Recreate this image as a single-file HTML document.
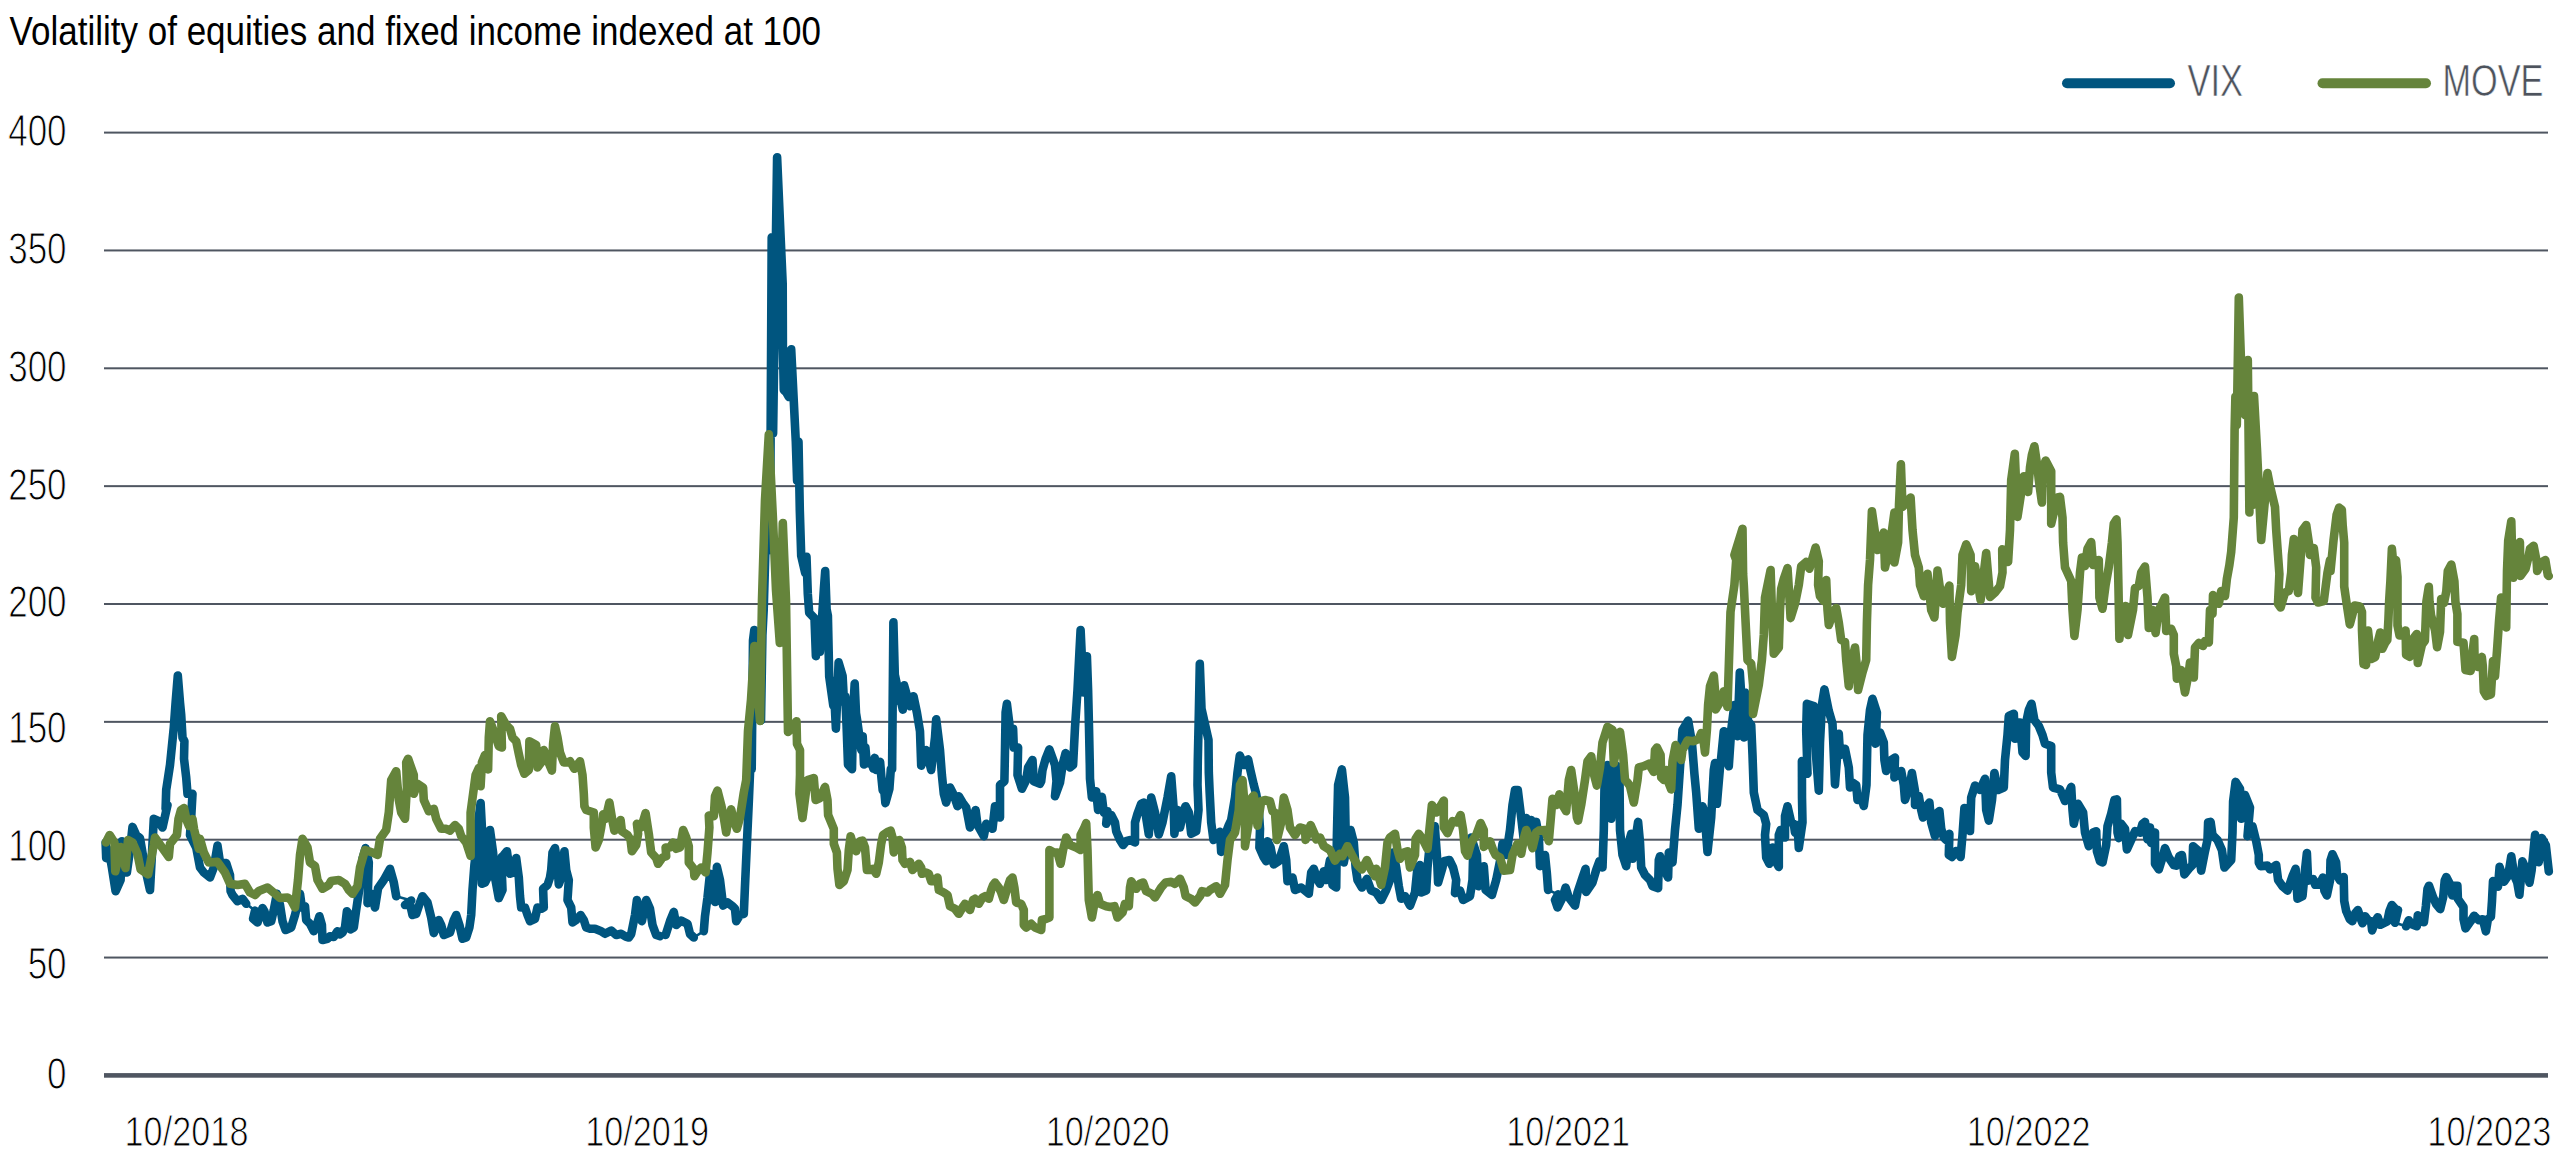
<!DOCTYPE html>
<html><head><meta charset="utf-8"><title>Volatility chart</title>
<style>html,body{margin:0;padding:0;background:#fff;}body{width:2560px;height:1156px;overflow:hidden;font-family:"Liberation Sans",sans-serif;}</style></head>
<body>
<svg width="2560" height="1156" viewBox="0 0 2560 1156" style="display:block">
<rect width="2560" height="1156" fill="#ffffff"/>
<rect x="104" y="131.60" width="2444" height="2" fill="#4f5661"/>
<rect x="104" y="249.45" width="2444" height="2" fill="#4f5661"/>
<rect x="104" y="367.30" width="2444" height="2" fill="#4f5661"/>
<rect x="104" y="485.15" width="2444" height="2" fill="#4f5661"/>
<rect x="104" y="603.00" width="2444" height="2" fill="#4f5661"/>
<rect x="104" y="720.85" width="2444" height="2" fill="#4f5661"/>
<rect x="104" y="838.70" width="2444" height="2" fill="#4f5661"/>
<rect x="104" y="956.55" width="2444" height="2" fill="#4f5661"/>
<path d="M246.2 903.8L255.0 910.6" fill="none" stroke="#00557f" stroke-width="2.6" stroke-linecap="round"/>
<path d="M396.2 896.2L411.2 900.6" fill="none" stroke="#00557f" stroke-width="2.6" stroke-linecap="round"/>
<path d="M660.0 936.2L665.6 935.0" fill="none" stroke="#00557f" stroke-width="2.6" stroke-linecap="round"/>
<path d="M693.8 937.5L703.8 931.2" fill="none" stroke="#00557f" stroke-width="2.6" stroke-linecap="round"/>
<path d="M1548.1 890.0L1558.1 894.4" fill="none" stroke="#00557f" stroke-width="2.6" stroke-linecap="round"/>
<path d="M2395.0 922.8L2406.1 926.3" fill="none" stroke="#00557f" stroke-width="2.6" stroke-linecap="round"/>
<path d="M105.6 842.5L106.2 858.1L108.8 850.0L111.9 867.5L115.6 891.2L120.6 880.0L121.9 841.2L124.4 855.0L126.9 872.5L130.0 850.0L132.5 826.9L136.2 835.0L140.0 838.1L145.0 867.5L150.0 890.0L151.9 855.0L153.8 818.8L158.8 821.2L162.5 827.5L167.5 805.0L165.6 809.0L166.2 790.0L170.0 765.0L173.8 727.5L175.6 702.5L177.8 675.6L180.0 702.5L181.2 715.0L182.5 737.5L184.4 741.2L184.0 758.8L186.2 777.5L187.5 793.8L192.5 793.8L191.2 817.5L190.0 835.0L196.2 847.5L200.0 867.5L203.8 872.5L210.0 877.5L213.8 867.5L217.5 845.6L220.0 862.5L226.2 863.1L230.0 875.0L230.6 891.2L232.5 895.0L237.5 901.2L242.5 898.8L246.2 903.8" fill="none" stroke="#00557f" stroke-width="8.6" stroke-linejoin="round" stroke-linecap="round"/>
<path d="M255.0 910.6L253.1 918.8L257.5 922.5L262.5 908.1L264.4 911.2L267.5 922.5L271.2 921.2L273.8 910.0L276.9 893.8L280.0 905.0L282.5 921.2L285.6 930.0L291.2 927.5L295.0 915.0L298.1 902.5L300.0 893.8L301.9 907.5L305.0 906.2L306.2 920.0L310.0 923.8L313.8 931.2L316.2 926.2L319.4 916.2L321.9 925.0L322.5 940.0L327.5 938.8L330.0 936.2L333.8 936.9L337.5 931.2L340.0 934.4L342.5 932.5L345.0 927.5L346.9 911.2L348.8 913.8L350.6 929.4L353.8 927.5L356.2 910.0L358.8 892.5L360.6 877.5L362.5 858.8L365.6 848.1L368.8 862.5L367.5 903.1L371.2 893.8L375.0 907.5L378.1 888.1L383.8 880.0L390.0 868.8L393.8 882.5L396.2 896.2" fill="none" stroke="#00557f" stroke-width="8.6" stroke-linejoin="round" stroke-linecap="round"/>
<path d="M411.2 900.6L405.0 905.0L410.0 903.8L412.5 915.0L416.2 913.8L420.0 902.5L422.5 896.2L427.5 902.5L431.2 917.5L433.8 933.1L436.2 927.5L438.8 920.0L441.2 925.0L443.8 935.0L450.0 932.5L453.8 920.0L456.2 915.0L459.4 925.0L462.5 938.8L466.2 937.5L469.4 927.5L471.2 915.0L472.5 890.0L474.4 865.0L477.5 840.0L477.5 827.5L480.6 803.1L481.9 827.5L481.9 883.8L485.0 882.5L487.5 877.5L490.0 830.0L493.1 852.5L495.0 877.5L498.8 898.1L502.5 890.0L501.2 857.5L503.8 855.0L506.9 851.2L510.0 873.8L513.8 872.5L516.2 858.1L518.8 877.5L520.0 896.2L521.2 907.5L525.0 907.5L527.5 915.0L530.0 921.2L535.0 918.8L537.5 907.5L541.2 908.8L543.8 907.5L543.1 888.8L547.5 885.0L550.0 877.5L551.2 870.0L552.5 852.5L555.0 848.1L557.5 865.0L558.8 884.4L561.2 877.5L563.1 865.0L564.4 851.2L566.2 870.0L568.8 880.0L567.5 900.0L571.2 907.5L572.5 922.5L576.2 920.0L580.6 915.0L583.8 920.0L586.2 927.5L590.0 928.8L595.0 928.8L601.2 931.2L605.0 933.8L611.2 930.6L616.2 935.0L621.2 933.8L626.2 936.9L628.8 937.5L631.2 934.0L635.0 915.0L636.9 900.0L641.9 921.2L646.2 900.0L650.0 908.8L652.5 925.0L656.2 935.0L660.0 936.2" fill="none" stroke="#00557f" stroke-width="8.6" stroke-linejoin="round" stroke-linecap="round"/>
<path d="M665.6 935.0L670.0 921.2L673.8 911.9L676.2 925.0L681.2 920.6L687.5 923.8L690.0 934.0L693.8 937.5" fill="none" stroke="#00557f" stroke-width="8.6" stroke-linejoin="round" stroke-linecap="round"/>
<path d="M703.8 931.2L705.0 916.2L707.5 897.5L710.0 873.8L712.0 875.0L715.0 901.9L716.9 866.9L720.0 880.0L723.1 905.6L727.5 902.5L732.5 906.2L735.0 908.8L736.2 921.2L740.0 915.0L743.8 913.8L745.0 885.7L749.0 797.4L750.3 766.1L751.7 769.3L753.0 640.5L754.3 630.0L758.3 704.3L759.7 666.5L761.0 720.1L762.4 635.4L763.7 609.7L767.7 470.7L769.0 550.2L770.4 476.9L771.7 237.4L773.1 433.3L777.1 157.3L782.7 284.0L782.9 347.0L783.8 390.0L786.0 392.0L788.8 397.0L791.2 349.4L795.8 441.6L797.1 480.9L798.5 441.8L799.8 510.1L801.2 555.7L805.2 573.0L806.5 556.8L807.8 594.0L809.2 612.7L814.5 618.2L815.9 656.1L817.2 621.9L818.5 630.0L819.9 651.8L823.9 588.7L825.2 571.1L826.6 609.2L827.9 615.9L829.2 676.4L833.3 705.7L834.6 702.6L835.9 728.6L837.3 696.2L838.6 662.4L842.6 676.0L844.0 702.2L845.3 696.5L846.6 726.2L848.0 764.7L852.0 769.2L853.3 708.5L854.7 683.6L856.0 713.3L857.3 721.3L861.3 750.0L862.7 736.3L864.0 764.5L865.4 747.5L866.7 762.7L872.0 764.3L873.4 768.7L874.7 757.9L876.1 769.9L880.1 761.9L881.4 777.3L882.7 790.4L884.1 788.8L885.4 803.1L889.4 788.8L890.8 769.2L892.1 769.2L893.4 622.4L894.8 674.6L898.8 693.4L900.1 701.5L901.5 703.7L902.8 709.6L904.1 685.4L910.0 706.2L913.5 696.2L916.9 712.5L920.0 731.2L921.2 765.6L926.2 750.0L931.2 770.0L935.0 737.5L936.2 719.4L940.0 750.0L941.9 775.0L943.8 793.8L946.2 802.5L950.0 787.5L953.8 795.0L957.5 806.2L958.8 796.2L962.5 802.5L966.2 807.5L970.0 827.5L975.6 810.0L977.5 825.0L983.8 836.2L986.2 823.8L992.5 828.8L995.0 806.2L1000.0 817.5L1000.0 785.0L1004.4 781.2L1005.0 750.0L1005.6 712.5L1006.9 703.8L1010.0 728.8L1013.1 728.8L1013.8 747.5L1018.1 747.5L1017.5 775.0L1021.9 788.8L1026.2 780.0L1028.1 767.5L1032.5 760.0L1033.8 781.2L1040.0 783.8L1041.2 781.2L1042.5 770.0L1045.6 758.8L1049.4 749.4L1055.0 765.0L1056.5 781.2L1055.0 796.2L1060.0 782.5L1062.8 763.8L1065.6 753.1L1070.0 767.5L1073.1 765.0L1075.0 727.5L1077.5 690.0L1079.4 652.5L1080.6 630.0L1083.5 692.5L1086.9 656.2L1088.1 690.0L1089.0 727.5L1089.8 765.0L1090.0 778.8L1091.9 797.5L1096.2 791.2L1098.1 810.0L1101.9 796.9L1103.8 812.5L1107.5 811.2L1106.2 823.8L1111.2 815.0L1115.0 822.5L1116.2 831.2L1120.0 840.0L1123.1 845.0L1126.2 841.2L1130.0 840.0L1135.0 842.5L1135.0 822.5L1137.5 813.8L1141.2 803.8L1143.8 802.5L1148.8 834.4L1151.2 797.5L1155.0 812.5L1158.8 834.4L1162.5 822.5L1167.5 797.5L1171.2 776.2L1173.8 810.0L1174.4 833.8L1177.5 810.0L1180.0 827.5L1183.8 810.0L1185.6 806.2L1188.8 812.5L1191.2 833.8L1196.2 831.2L1198.5 810.0L1197.5 785.0L1197.8 760.0L1198.8 715.0L1199.8 663.8L1201.5 708.8L1208.5 740.0L1208.8 772.5L1209.6 791.2L1211.2 822.5L1213.5 840.0L1216.2 835.0L1220.0 831.9L1221.2 851.9L1225.0 835.0L1228.8 825.0L1231.2 820.0L1235.0 797.5L1237.5 772.5L1239.8 755.6L1244.0 765.0L1248.1 759.4L1250.6 771.2L1253.8 785.0L1256.2 793.8L1258.8 810.0L1260.0 828.8L1259.4 847.5L1263.8 857.5L1266.2 861.2L1267.5 841.2L1270.6 847.5L1273.8 864.4L1278.8 861.2L1283.8 846.2L1286.2 860.0L1287.5 881.2L1292.5 877.5L1295.0 890.0L1301.2 887.5L1308.8 893.8L1311.2 872.5L1313.8 868.8L1317.5 880.0L1320.0 883.8L1323.8 871.2L1326.2 880.0L1330.0 860.0L1332.5 885.0L1336.2 887.5L1336.9 835.0L1338.1 785.0L1341.9 769.4L1345.0 797.5L1345.6 830.0L1343.8 862.5L1347.5 842.5L1350.6 830.0L1353.8 842.5L1355.6 867.5L1357.5 880.0L1361.9 887.5L1366.9 878.8L1371.2 890.6L1376.2 892.5L1381.2 900.0L1386.2 890.0L1390.0 880.0L1391.9 867.5L1393.1 852.5L1396.2 867.5L1398.8 886.2L1401.2 898.8L1405.0 896.2L1410.0 905.6L1415.0 892.5L1417.5 867.5L1420.0 865.0L1421.2 892.5L1426.2 890.6L1427.5 867.5L1430.0 842.5L1434.8 826.2L1436.9 855.0L1438.1 882.5L1442.5 867.5L1443.8 861.2L1449.4 860.0L1453.1 867.5L1456.2 880.0L1455.0 893.1L1460.0 890.6L1463.1 900.0L1470.0 896.2L1472.5 880.0L1473.1 855.0L1471.2 837.5L1476.9 855.0L1478.1 886.2L1483.8 866.2L1485.6 890.0L1491.9 895.0L1496.2 880.0L1500.0 861.2L1502.5 843.8L1506.2 855.0L1510.0 830.0L1512.5 805.0L1515.0 790.0L1517.8 790.0L1521.2 817.5L1523.5 837.5L1526.2 818.1L1528.8 840.0L1531.2 820.0L1533.8 841.2L1536.2 821.9L1538.8 836.2L1540.0 866.2L1545.0 855.0L1546.9 873.8L1548.1 890.0" fill="none" stroke="#00557f" stroke-width="8.6" stroke-linejoin="round" stroke-linecap="round"/>
<path d="M1558.1 894.4L1555.0 900.0L1557.5 907.5L1562.5 897.5L1565.6 887.5L1568.8 897.5L1575.0 905.6L1577.5 892.5L1582.5 877.5L1585.6 868.8L1586.2 891.9L1592.5 882.5L1596.2 870.0L1599.4 861.2L1602.5 867.5L1603.8 830.0L1604.4 792.5L1605.0 767.5L1607.5 765.0L1611.2 818.8L1615.0 765.0L1619.4 767.5L1620.0 830.0L1622.5 855.0L1626.2 866.2L1628.8 842.5L1631.2 833.8L1632.5 858.8L1638.1 821.9L1640.0 842.5L1641.2 867.5L1645.0 875.0L1650.0 880.0L1652.5 886.2L1658.1 888.1L1658.8 860.0L1660.0 856.2L1663.1 867.5L1668.1 877.5L1668.8 852.5L1672.5 862.5L1675.0 830.0L1677.5 805.0L1680.0 767.5L1682.5 730.0L1688.1 720.6L1691.9 742.5L1694.4 773.8L1696.2 792.5L1698.8 828.8L1702.5 806.2L1704.5 812.5L1707.5 852.0L1711.2 817.5L1713.8 770.0L1715.0 763.1L1716.2 780.0L1716.9 803.8L1720.0 767.5L1721.2 757.5L1723.8 731.2L1728.8 766.2L1731.2 730.0L1734.4 705.0L1737.5 736.2L1739.8 672.5L1744.0 737.5L1745.0 692.5L1748.1 721.2L1751.2 725.0L1752.5 755.0L1753.8 792.5L1757.5 810.0L1763.8 815.0L1766.2 824.0L1765.0 835.0L1766.2 857.5L1769.4 863.8L1772.5 847.5L1775.0 860.0L1778.8 867.0L1778.8 835.0L1780.6 830.0L1785.0 837.5L1785.0 816.0L1787.5 806.2L1791.2 822.5L1793.8 823.8L1795.0 832.5L1797.5 825.0L1798.8 848.0L1802.5 822.5L1802.0 797.5L1801.9 761.0L1807.5 773.8L1806.2 730.0L1806.9 703.8L1813.8 706.0L1815.0 742.5L1818.8 790.6L1820.0 742.5L1821.9 705.0L1824.4 689.4L1828.8 711.0L1832.5 723.8L1835.0 784.4L1838.8 733.8L1840.0 755.0L1845.0 748.8L1848.8 767.5L1850.0 787.5L1852.5 782.5L1856.2 785.0L1857.5 800.0L1861.2 797.5L1863.8 806.0L1866.5 785.0L1867.5 735.0L1870.0 710.0L1872.5 698.8L1876.9 712.5L1875.6 743.8L1880.0 732.5L1883.8 742.5L1884.4 760.0L1886.2 771.0L1891.2 760.0L1895.0 757.5L1894.4 777.5L1901.2 771.0L1903.8 785.0L1905.0 800.0L1910.0 785.0L1911.9 773.0L1915.0 791.0L1915.0 805.0L1918.8 796.0L1921.2 810.0L1923.0 817.5L1927.5 805.0L1929.4 802.5L1931.2 822.5L1935.0 836.0L1937.5 812.5L1939.4 811.0L1941.2 828.8L1943.8 837.5L1946.2 840.0L1949.4 833.8L1948.8 855.0L1951.9 857.0L1956.2 851.0L1960.6 857.0L1962.5 835.0L1964.4 808.0L1970.0 831.0L1971.2 797.5L1975.0 785.6L1980.0 790.0L1985.0 778.8L1986.2 810.0L1988.8 820.6L1992.0 800.0L1994.4 773.0L1998.0 790.0L2003.8 787.5L2005.0 760.0L2007.5 735.0L2008.8 716.0L2013.8 713.8L2015.0 738.8L2017.5 722.5L2020.0 722.5L2022.5 752.5L2025.6 756.0L2026.2 722.5L2028.8 710.0L2031.5 703.8L2034.4 720.0L2038.8 726.0L2042.5 735.0L2045.0 743.8L2051.2 746.0L2051.2 772.5L2053.0 787.5L2060.0 789.4L2065.0 801.0L2071.2 786.9L2072.5 810.0L2073.8 823.8L2078.0 803.8L2083.1 812.5L2085.0 832.5L2088.8 846.2L2093.1 832.5L2096.2 831.2L2096.9 851.2L2100.0 861.2L2102.5 862.5L2106.2 845.0L2107.5 826.2L2111.2 813.8L2114.4 800.0L2116.9 799.4L2117.5 832.5L2118.8 838.1L2121.2 823.8L2125.0 828.8L2126.9 849.4L2131.2 840.0L2135.0 831.2L2140.0 832.5L2142.5 823.8L2145.0 821.9L2147.5 839.4L2150.0 827.5L2151.2 843.1L2155.0 832.5L2155.0 863.8L2158.8 869.4L2162.5 857.5L2165.0 848.1L2168.8 857.5L2173.8 865.0L2176.2 865.6L2179.4 856.2L2181.9 855.0L2184.4 874.4L2188.8 868.8L2192.5 865.0L2193.1 846.2L2198.8 851.2L2201.2 870.6L2205.0 851.2L2207.5 840.0L2208.1 822.5L2210.6 821.9L2212.5 835.0L2217.5 840.0L2221.9 850.0L2224.4 867.5L2231.2 860.0L2232.5 832.5L2233.1 801.2L2235.6 781.9L2240.0 788.8L2241.2 818.8L2245.0 795.0L2250.0 807.5L2247.5 836.2L2252.5 826.2L2256.2 841.2L2258.8 855.0L2258.8 862.5L2260.6 866.2L2267.5 865.6L2270.0 869.4L2276.2 865.0L2278.1 880.0L2282.5 886.2L2287.5 890.6L2292.5 876.2L2295.6 868.8L2297.5 898.8L2302.5 896.2L2305.0 870.0L2306.9 853.1L2308.1 880.6L2313.2 879.1L2315.2 884.7L2319.3 884.7L2322.9 877.6L2324.4 890.8L2326.9 895.4L2330.0 880.6L2330.5 860.3L2332.5 854.2L2336.1 862.3L2337.1 875.5L2340.1 880.6L2343.7 877.1L2344.2 900.9L2346.2 911.1L2349.8 919.2L2352.3 921.3L2355.4 913.1L2357.9 910.1L2360.9 919.2L2362.5 923.3L2365.0 916.2L2368.0 920.2L2371.1 921.3L2372.1 930.4L2375.2 921.3L2377.7 917.2L2380.2 924.8L2387.3 921.3L2389.4 911.1L2391.9 905.0L2395.5 909.1L2398.0 910.1L2395.0 922.8" fill="none" stroke="#00557f" stroke-width="8.6" stroke-linejoin="round" stroke-linecap="round"/>
<path d="M2406.1 926.3L2408.7 920.2L2411.7 924.3L2416.8 926.3L2417.8 915.4L2423.9 922.3L2425.9 906.0L2427.5 888.8L2429.0 885.7L2433.0 896.9L2436.1 904.0L2440.2 909.1L2443.2 896.9L2444.7 880.6L2446.3 877.1L2450.3 884.7L2452.3 895.4L2453.4 885.7L2457.4 885.7L2457.9 898.9L2463.5 907.0L2463.5 919.2L2465.5 928.4L2470.6 921.3L2474.2 915.7L2478.8 920.2L2482.8 919.2L2485.9 931.4L2487.9 919.2L2490.9 916.7L2492.0 900.9L2493.0 881.1L2498.0 886.7L2499.6 866.9L2504.1 881.6L2508.2 875.5L2511.3 856.3L2514.3 875.5L2517.3 882.7L2519.4 894.8L2522.4 861.3L2526.5 870.5L2529.5 882.7L2531.6 870.5L2533.6 850.2L2535.1 834.9L2536.6 850.2L2538.7 862.3L2541.7 838.0L2545.8 845.1L2548.8 871.5" fill="none" stroke="#00557f" stroke-width="8.6" stroke-linejoin="round" stroke-linecap="round"/>
<path d="M105.9 842.5L109.7 835.0L114.4 842.5L115.3 871.3L120.6 847.0L125.5 868.0L128.0 840.0L132.5 842.5L137.5 853.8L140.6 869.4L148.1 874.4L153.8 845.0L155.0 837.5L168.8 856.9L170.0 843.8L176.9 835.0L178.5 819.0L181.0 810.0L184.0 808.0L186.5 820.0L189.0 826.0L192.5 819.0L194.0 829.0L198.8 848.8L200.0 838.8L203.8 852.5L208.8 862.5L217.5 861.9L225.0 872.5L230.0 883.8L237.5 885.0L245.0 883.8L250.0 892.5L255.0 895.0L258.8 891.0L267.5 887.5L275.0 893.8L280.0 898.0L287.5 897.5L291.0 900.0L295.0 907.5L298.0 880.0L300.0 855.0L302.5 838.8L307.5 847.5L310.0 862.5L315.0 866.0L317.5 880.0L322.5 888.8L328.8 885.0L331.0 881.0L338.8 880.0L345.0 883.8L348.8 890.0L352.5 893.8L357.5 886.0L360.0 867.5L365.0 850.0L372.5 852.5L377.5 855.0L380.0 838.8L386.2 830.0L388.8 812.5L391.2 780.0L396.2 771.2L398.8 800.0L401.2 812.5L405.0 818.8L406.9 787.5L406.2 762.5L408.1 758.8L413.8 775.0L413.8 793.8L417.5 783.8L423.1 787.5L423.8 800.0L428.8 811.2L433.8 808.8L436.2 818.8L441.2 828.8L446.2 828.8L450.0 830.6L455.0 825.0L458.8 828.8L461.2 836.2L466.2 842.5L470.6 856.0L470.6 812.5L473.1 793.8L475.6 775.0L478.8 768.1L480.6 786.2L481.9 762.5L485.0 755.0L488.1 769.4L488.8 737.5L490.0 721.2L493.8 731.2L498.8 746.2L501.9 747.5L501.2 716.2L506.2 725.0L510.0 728.8L512.5 737.5L516.2 741.2L518.8 753.8L521.2 765.0L524.4 773.8L528.8 770.0L529.4 741.2L536.2 745.0L537.5 767.5L541.2 762.5L543.8 750.0L547.5 760.0L551.9 770.6L553.1 743.8L555.0 726.2L557.5 737.5L560.0 752.5L563.8 762.5L567.5 762.5L570.0 761.2L574.4 768.8L580.0 761.2L582.5 775.0L583.8 793.8L584.4 806.2L586.2 810.0L586.2 810.0L593.8 812.5L593.8 827.5L595.6 847.5L598.8 840.0L601.2 827.5L603.1 814.4L605.6 818.8L609.4 802.5L612.5 821.2L614.4 830.6L617.5 827.5L620.6 820.0L621.9 831.2L627.5 835.0L630.6 840.0L631.9 851.2L636.2 845.0L638.1 833.8L636.9 823.8L641.2 827.5L645.6 813.1L648.8 833.8L651.2 852.5L656.2 858.1L658.1 863.8L662.5 857.5L666.2 856.2L665.6 847.5L670.0 847.5L673.1 842.5L676.2 848.8L680.0 847.5L683.1 830.0L686.2 837.5L688.8 846.2L688.8 862.5L693.8 868.8L694.4 876.2L697.5 871.2L701.2 867.5L705.6 872.5L707.5 852.5L709.4 827.5L708.8 815.6L713.8 816.2L715.0 796.2L715.0 796.2L717.5 790.6L721.2 805.0L723.8 817.5L726.2 832.5L728.8 817.5L731.2 809.4L733.8 821.2L736.9 828.8L740.0 817.5L741.9 805.0L743.8 792.5L746.2 780.0L748.0 731.0L751.0 700.0L754.4 646.0L757.5 690.0L760.0 721.0L762.0 600.0L765.0 500.0L768.8 434.4L773.0 520.0L776.0 590.0L779.8 643.0L782.8 523.0L786.0 600.0L788.0 732.0L792.0 728.0L796.5 721.2L797.0 743.8L800.0 750.0L800.0 775.0L799.4 793.8L802.5 818.0L807.5 780.0L813.8 778.0L815.6 800.0L820.0 798.0L825.0 786.9L827.5 800.0L828.1 815.0L833.8 828.8L833.8 843.8L836.9 852.5L837.5 868.8L839.4 885.0L843.8 881.2L847.5 870.0L848.8 850.0L850.6 836.2L853.8 847.5L856.2 851.2L860.0 841.2L862.5 840.6L865.0 847.5L866.9 870.0L870.0 870.0L873.1 868.8L876.2 873.8L878.8 862.5L881.2 843.8L883.1 835.0L887.5 831.9L890.6 830.6L892.5 837.5L893.8 852.5L897.5 841.2L899.4 840.0L901.9 847.5L902.5 860.0L905.0 863.8L910.0 861.9L912.5 870.0L915.0 867.5L918.8 863.8L921.2 867.5L921.9 873.8L926.2 872.5L928.8 873.8L931.2 881.2L933.8 881.2L937.5 877.5L938.8 890.0L943.8 892.5L947.5 895.0L950.0 906.2L955.0 908.8L958.8 913.8L962.5 907.5L965.0 903.8L970.0 910.0L973.1 900.0L975.0 898.8L978.8 903.8L982.5 897.5L985.0 896.2L988.8 898.8L991.2 890.0L993.1 885.0L995.0 882.5L998.8 887.5L1001.2 892.5L1003.8 900.0L1007.5 887.5L1010.0 880.0L1012.5 877.5L1014.4 887.5L1016.2 902.5L1021.2 903.8L1023.8 910.0L1023.8 925.0L1026.2 927.5L1031.2 923.8L1035.0 927.5L1041.2 930.0L1041.9 920.0L1046.2 918.8L1049.4 917.5L1049.4 875.0L1049.4 850.0L1053.8 852.5L1057.5 852.5L1060.6 863.8L1063.1 850.0L1066.2 837.5L1070.0 845.0L1076.2 847.5L1080.6 850.0L1080.6 835.0L1083.8 828.8L1086.2 823.1L1087.5 850.0L1088.8 900.0L1091.9 917.5L1095.0 900.0L1097.5 895.0L1100.0 903.8L1106.2 906.2L1110.0 906.9L1114.4 906.2L1117.5 917.5L1122.5 912.5L1125.0 903.8L1128.8 906.2L1130.0 887.5L1131.2 881.2L1136.2 888.8L1140.0 883.8L1143.1 882.5L1146.2 891.2L1151.9 893.8L1155.0 897.5L1161.2 887.5L1165.6 882.5L1171.2 881.9L1175.0 883.8L1180.0 878.8L1183.8 887.5L1185.6 896.2L1191.2 898.8L1195.0 902.5L1200.0 896.2L1201.9 891.2L1207.5 892.5L1210.0 890.0L1216.2 886.2L1220.0 893.8L1225.0 885.0L1227.5 860.0L1230.0 840.0L1235.0 832.5L1238.8 810.0L1240.0 785.0L1242.5 780.0L1245.0 810.0L1245.0 846.2L1248.8 822.5L1251.9 797.5L1253.8 795.6L1256.2 810.0L1257.5 825.6L1261.2 801.2L1265.0 800.0L1270.0 801.2L1272.5 811.2L1275.0 812.5L1276.9 840.0L1281.2 822.5L1283.8 797.5L1287.5 810.0L1290.0 827.5L1295.0 835.0L1300.0 827.5L1305.0 828.8L1305.6 840.0L1310.6 825.0L1315.0 835.0L1316.2 839.4L1320.0 837.5L1323.8 846.2L1330.0 850.0L1335.0 860.6L1340.0 853.8L1342.5 856.2L1347.5 846.2L1352.5 856.2L1357.5 865.0L1361.9 869.4L1366.9 860.0L1371.2 870.0L1375.0 876.2L1376.2 868.8L1381.2 885.0L1385.0 867.5L1387.5 842.5L1390.0 837.5L1395.0 833.8L1397.5 850.0L1400.0 858.8L1403.8 852.5L1407.5 851.2L1410.0 867.5L1415.0 855.0L1415.6 838.8L1418.8 833.8L1422.5 838.8L1427.5 848.8L1430.0 823.8L1431.9 805.0L1436.2 812.5L1438.8 808.8L1443.8 800.6L1443.8 827.5L1447.5 833.1L1452.5 821.2L1456.9 822.5L1460.6 815.0L1463.1 830.0L1465.0 851.2L1467.5 855.6L1471.2 842.5L1476.2 835.0L1480.6 823.1L1483.8 830.0L1483.8 846.9L1490.0 841.2L1493.1 850.0L1495.6 855.0L1500.0 857.5L1503.8 870.6L1510.0 870.0L1512.5 855.0L1517.5 843.8L1521.2 853.8L1524.4 836.2L1526.2 830.0L1530.0 840.0L1532.5 848.1L1536.2 832.5L1538.8 830.6L1545.0 830.0L1548.8 841.2L1552.5 798.8L1556.2 805.0L1559.4 794.4L1562.5 805.0L1566.2 811.2L1568.8 780.0L1571.2 770.0L1574.4 792.5L1576.9 817.5L1578.1 820.6L1581.2 805.0L1585.0 780.0L1587.5 761.2L1591.2 756.2L1593.8 773.8L1596.9 785.6L1600.0 767.5L1602.5 742.5L1607.5 726.9L1612.5 730.0L1613.8 763.1L1617.5 742.5L1620.0 731.9L1623.1 755.0L1625.0 780.0L1627.5 782.5L1630.0 786.2L1633.8 802.5L1637.5 780.0L1638.8 767.5L1643.8 766.2L1648.8 763.8L1653.8 771.9L1655.0 750.0L1656.9 747.5L1660.6 755.0L1661.2 777.5L1663.8 780.0L1666.2 770.0L1667.5 780.0L1671.2 789.4L1672.5 761.2L1675.6 745.0L1681.2 760.0L1682.5 750.0L1687.5 740.6L1693.8 741.2L1698.8 738.8L1701.2 733.1L1703.8 742.5L1705.0 752.5L1706.9 730.0L1708.1 705.0L1710.0 686.2L1713.8 675.6L1715.6 697.5L1715.6 709.4L1720.6 701.2L1723.8 691.2L1727.5 706.9L1729.0 660.0L1730.5 612.0L1734.4 585.0L1736.2 560.0L1734.4 555.0L1742.5 528.8L1743.1 574.0L1743.8 585.0L1745.6 622.5L1747.5 660.0L1751.2 663.8L1753.1 685.0L1753.0 714.0L1758.8 685.0L1761.9 660.0L1763.8 635.0L1765.0 597.5L1770.6 570.0L1771.9 610.0L1773.8 653.8L1778.8 647.5L1780.0 610.0L1781.2 588.8L1783.8 578.8L1787.5 568.1L1789.4 597.5L1790.6 618.1L1795.0 603.8L1798.8 585.0L1801.2 566.2L1806.2 561.9L1809.4 568.8L1815.6 547.5L1818.8 561.2L1818.1 585.0L1820.0 596.2L1823.8 601.2L1826.2 580.0L1827.5 610.0L1828.8 625.0L1833.1 612.5L1836.2 608.1L1838.8 622.5L1841.2 640.0L1845.0 641.9L1846.2 660.0L1848.8 686.2L1851.9 660.0L1855.0 647.5L1857.5 672.5L1858.1 690.0L1862.5 672.5L1866.2 660.0L1866.9 622.5L1868.1 585.0L1870.0 560.0L1871.9 511.2L1877.5 550.0L1883.8 532.5L1885.0 567.5L1890.0 545.0L1894.4 512.5L1894.4 562.5L1898.1 542.5L1899.0 505.0L1900.9 464.4L1902.5 506.9L1910.6 497.5L1912.5 530.0L1915.0 555.0L1918.8 567.5L1920.0 585.0L1923.8 596.2L1927.5 573.8L1931.2 610.0L1934.4 617.5L1937.5 570.6L1941.2 597.5L1943.1 603.8L1946.9 591.2L1949.4 585.6L1950.0 622.5L1951.9 656.9L1955.6 635.0L1957.5 612.5L1961.2 585.0L1962.5 555.0L1966.2 544.4L1970.6 555.0L1971.2 591.2L1975.0 566.2L1980.6 600.0L1986.2 553.1L1990.0 596.9L1995.0 592.5L2000.0 586.2L2002.5 572.5L2002.2 549.4L2008.1 561.9L2010.0 530.0L2011.2 480.0L2014.8 453.8L2017.5 516.9L2021.2 492.5L2023.8 476.2L2028.1 491.9L2030.0 467.5L2031.9 455.0L2034.4 446.2L2037.5 467.5L2038.8 480.0L2041.9 502.5L2043.1 467.5L2045.6 460.6L2051.2 471.2L2051.2 523.8L2055.6 505.0L2057.5 497.5L2060.0 496.9L2062.5 517.5L2063.1 542.5L2065.0 567.5L2065.3 568.0L2071.2 581.0L2072.5 610.0L2074.4 636.0L2077.5 610.0L2080.0 572.5L2081.9 557.5L2085.0 566.0L2087.5 548.8L2091.2 542.0L2093.0 565.0L2098.8 560.0L2099.4 597.5L2102.5 608.8L2105.6 585.0L2108.8 567.0L2111.9 542.5L2113.8 523.8L2116.5 519.4L2117.5 542.5L2118.5 590.0L2119.4 638.8L2122.5 610.0L2125.6 606.0L2128.0 635.0L2133.0 610.0L2135.0 588.0L2138.8 586.0L2141.2 572.5L2145.0 566.5L2147.5 597.5L2148.8 628.0L2152.5 610.0L2155.6 633.0L2158.8 610.0L2161.9 603.8L2165.0 597.5L2166.2 631.0L2171.2 628.8L2173.8 635.0L2173.8 653.8L2176.2 666.0L2176.9 678.8L2181.2 670.0L2185.0 692.5L2188.8 672.5L2190.0 662.5L2193.8 677.5L2195.0 647.5L2198.8 643.0L2203.0 646.0L2205.0 641.0L2208.8 642.5L2210.0 610.0L2212.5 613.8L2213.0 595.0L2218.8 603.8L2221.2 591.0L2225.0 596.0L2226.9 578.8L2229.4 565.0L2231.2 551.9L2233.8 517.5L2234.6 430.0L2235.4 396.6L2236.8 425.0L2238.8 297.5L2242.5 405.0L2245.0 415.0L2247.8 360.0L2249.4 512.5L2251.0 430.0L2252.3 505.0L2254.0 396.0L2257.0 450.0L2261.2 540.0L2267.5 473.0L2270.0 486.0L2275.0 507.0L2276.2 530.0L2278.0 555.0L2279.4 574.0L2278.0 603.8L2280.6 607.5L2285.0 592.5L2288.8 591.0L2291.2 572.5L2291.9 555.0L2293.8 539.0L2296.0 570.0L2298.0 593.0L2300.5 560.0L2302.5 530.0L2306.2 525.0L2308.8 542.5L2310.0 555.0L2313.8 548.0L2316.2 567.5L2315.5 597.5L2318.0 602.5L2323.8 601.0L2327.5 572.5L2330.0 560.0L2330.5 571.0L2333.5 540.6L2336.6 515.0L2339.1 507.6L2341.8 509.6L2342.7 525.4L2344.2 542.7L2344.2 586.3L2346.7 604.0L2349.8 624.4L2354.8 605.5L2359.9 606.5L2362.0 612.0L2362.0 630.5L2363.5 664.0L2366.0 665.0L2368.0 630.5L2371.0 659.0L2375.2 657.0L2378.2 640.6L2380.2 632.5L2382.3 648.8L2385.3 642.7L2387.3 640.0L2388.4 620.0L2389.2 600.0L2390.4 581.0L2391.9 548.8L2393.4 565.0L2396.0 560.0L2397.5 577.0L2397.5 600.0L2397.5 625.4L2399.5 635.5L2402.6 635.5L2405.6 630.5L2406.1 654.8L2409.7 656.9L2411.7 640.6L2416.8 634.0L2417.8 663.0L2421.9 644.7L2424.9 640.6L2426.4 601.6L2428.8 586.8L2429.5 601.6L2431.0 615.0L2435.1 630.5L2437.1 647.2L2440.0 632.0L2441.2 599.0L2444.0 603.0L2446.3 591.4L2447.8 571.0L2451.3 564.5L2454.4 581.3L2455.4 601.6L2457.4 614.2L2457.4 641.7L2463.5 642.7L2465.5 670.0L2470.6 671.0L2472.7 650.8L2474.2 639.0L2474.7 665.0L2477.7 667.0L2481.8 656.9L2482.8 666.0L2483.8 691.4L2486.4 696.0L2490.9 694.5L2493.0 661.0L2495.0 676.2L2497.0 650.8L2499.1 620.3L2501.1 597.5L2503.5 600.0L2506.2 627.4L2507.0 571.0L2508.2 540.6L2511.3 521.3L2512.3 561.0L2513.3 577.7L2516.3 550.8L2519.9 542.0L2520.4 576.0L2525.5 569.0L2528.5 556.9L2530.0 548.8L2533.6 545.7L2536.6 561.0L2537.2 571.0L2540.7 563.0L2545.3 560.0L2547.8 575.0L2548.8 576.0" fill="none" stroke="#65843b" stroke-width="8.6" stroke-linejoin="round" stroke-linecap="round"/>
<rect x="104" y="1073.10" width="2444" height="4.6" fill="#4f5661"/>
<line x1="2067" y1="83.2" x2="2170" y2="83.2" stroke="#00557f" stroke-width="10" stroke-linecap="round"/>
<line x1="2322.5" y1="83.2" x2="2426" y2="83.2" stroke="#65843b" stroke-width="10" stroke-linecap="round"/>
<text transform="translate(9.6,45) scale(0.8645,1)" font-family="Liberation Sans, sans-serif" font-size="40.5" fill="#000000" text-anchor="start">Volatility of equities and fixed income indexed at 100</text>
<text transform="translate(2187.5,96.4) scale(0.775,1)" font-family="Liberation Sans, sans-serif" font-size="44.5" fill="#4d535d" text-anchor="start" stroke="#ffffff" stroke-width="0.6" paint-order="fill stroke">VIX</text>
<text transform="translate(2442.5,96.4) scale(0.77,1)" font-family="Liberation Sans, sans-serif" font-size="44.5" fill="#4d535d" text-anchor="start" stroke="#ffffff" stroke-width="0.6" paint-order="fill stroke">MOVE</text>
<text transform="translate(66.6,146.0) scale(0.775,1)" font-family="Liberation Sans, sans-serif" font-size="45.2" fill="#000000" text-anchor="end" stroke="#ffffff" stroke-width="1.05" paint-order="fill stroke">400</text>
<text transform="translate(66.6,263.84999999999997) scale(0.775,1)" font-family="Liberation Sans, sans-serif" font-size="45.2" fill="#000000" text-anchor="end" stroke="#ffffff" stroke-width="1.05" paint-order="fill stroke">350</text>
<text transform="translate(66.6,381.69999999999993) scale(0.775,1)" font-family="Liberation Sans, sans-serif" font-size="45.2" fill="#000000" text-anchor="end" stroke="#ffffff" stroke-width="1.05" paint-order="fill stroke">300</text>
<text transform="translate(66.6,499.54999999999995) scale(0.775,1)" font-family="Liberation Sans, sans-serif" font-size="45.2" fill="#000000" text-anchor="end" stroke="#ffffff" stroke-width="1.05" paint-order="fill stroke">250</text>
<text transform="translate(66.6,617.4) scale(0.775,1)" font-family="Liberation Sans, sans-serif" font-size="45.2" fill="#000000" text-anchor="end" stroke="#ffffff" stroke-width="1.05" paint-order="fill stroke">200</text>
<text transform="translate(66.6,743.15) scale(0.775,1)" font-family="Liberation Sans, sans-serif" font-size="45.2" fill="#000000" text-anchor="end" stroke="#ffffff" stroke-width="1.05" paint-order="fill stroke">150</text>
<text transform="translate(66.6,860.9999999999999) scale(0.775,1)" font-family="Liberation Sans, sans-serif" font-size="45.2" fill="#000000" text-anchor="end" stroke="#ffffff" stroke-width="1.05" paint-order="fill stroke">100</text>
<text transform="translate(66.6,978.8499999999999) scale(0.775,1)" font-family="Liberation Sans, sans-serif" font-size="45.2" fill="#000000" text-anchor="end" stroke="#ffffff" stroke-width="1.05" paint-order="fill stroke">50</text>
<text transform="translate(66.6,1088.8) scale(0.775,1)" font-family="Liberation Sans, sans-serif" font-size="45.2" fill="#000000" text-anchor="end" stroke="#ffffff" stroke-width="1.05" paint-order="fill stroke">0</text>
<text transform="translate(186.5,1146.2) scale(0.82,1)" font-family="Liberation Sans, sans-serif" font-size="41.8" fill="#000000" text-anchor="middle" stroke="#ffffff" stroke-width="1.0" paint-order="fill stroke">10/2018</text>
<text transform="translate(647.1,1146.2) scale(0.82,1)" font-family="Liberation Sans, sans-serif" font-size="41.8" fill="#000000" text-anchor="middle" stroke="#ffffff" stroke-width="1.0" paint-order="fill stroke">10/2019</text>
<text transform="translate(1107.6,1146.2) scale(0.82,1)" font-family="Liberation Sans, sans-serif" font-size="41.8" fill="#000000" text-anchor="middle" stroke="#ffffff" stroke-width="1.0" paint-order="fill stroke">10/2020</text>
<text transform="translate(1568.2,1146.2) scale(0.82,1)" font-family="Liberation Sans, sans-serif" font-size="41.8" fill="#000000" text-anchor="middle" stroke="#ffffff" stroke-width="1.0" paint-order="fill stroke">10/2021</text>
<text transform="translate(2028.7,1146.2) scale(0.82,1)" font-family="Liberation Sans, sans-serif" font-size="41.8" fill="#000000" text-anchor="middle" stroke="#ffffff" stroke-width="1.0" paint-order="fill stroke">10/2022</text>
<text transform="translate(2489.3,1146.2) scale(0.82,1)" font-family="Liberation Sans, sans-serif" font-size="41.8" fill="#000000" text-anchor="middle" stroke="#ffffff" stroke-width="1.0" paint-order="fill stroke">10/2023</text>
</svg>
</body></html>
